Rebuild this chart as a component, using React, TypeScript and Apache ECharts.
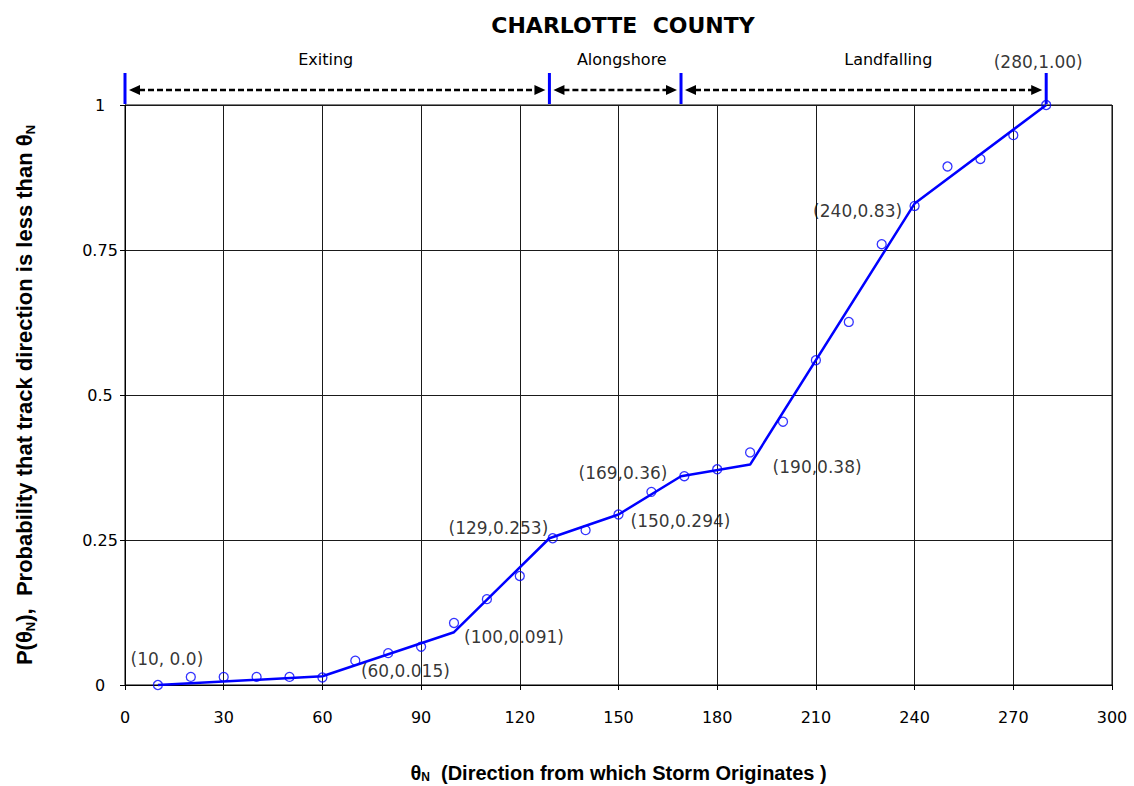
import React, { useEffect, useRef } from "react";
import * as echarts from "echarts";

// Observed points (circles)
const thetaObs = [10, 20, 30, 40, 50, 60, 70, 80, 90, 100, 110, 120, 130, 140, 150, 160, 170, 180, 190, 200, 210, 220, 230, 240, 250, 260, 270, 280];
const pObs = [0.0, 0.014, 0.014, 0.014, 0.014, 0.013, 0.042, 0.055, 0.066, 0.107, 0.148, 0.188, 0.253, 0.267, 0.294, 0.333, 0.36, 0.372, 0.401, 0.454, 0.56, 0.626, 0.76, 0.826, 0.894, 0.907, 0.948, 1.0];

// Piecewise linear fit
const fitTheta = [10, 60, 100, 129, 150, 169, 190, 240, 280];
const fitP = [0.0, 0.015, 0.091, 0.253, 0.294, 0.36, 0.38, 0.83, 1.0];
const fitLabels = ["(10, 0.0)", "(60,0.015)", "(100,0.091)", "(129,0.253)", "(150,0.294)", "(169,0.36)", "(190,0.38)", "(240,0.83)", "(280,1.00)"];

// Regions along the top
const regionBounds = [0, 129, 169, 280];
const regionNames = ["Exiting", "Alongshore", "Landfalling"];
const regionLabelX = [61, 151, 232];

// style: label offsets in pixels (relative to the point)
const labelOffsets = [[9, -26], [83, -5], [60, 5], [-51, -10], [62, 7], [-58, -3], [67, 2], [-57, 7], [-8, -43]];

const BLUE = "#0000ff";

export default function App() {
  const ref = useRef<HTMLDivElement>(null);
  useEffect(() => {
    if (!ref.current) return;
    const chart = echarts.init(ref.current, null, { renderer: "svg" });
    const nameRich = {
      t: { fontFamily: "Liberation Sans", fontWeight: "bold", fontSize: 20, color: "#000", lineHeight: 20 },
      s: { fontFamily: "Liberation Sans", fontWeight: "bold", fontSize: 12, color: "#000", lineHeight: 12, verticalAlign: "bottom" },
    };
    const yNameRich = {
      t: { fontFamily: "Liberation Sans", fontWeight: "bold", fontSize: 22, color: "#000", lineHeight: 26 },
      s: { fontFamily: "Liberation Sans", fontWeight: "bold", fontSize: 13, color: "#000", lineHeight: 13, verticalAlign: "bottom" },
    };
    const option: any = {
      animation: false,
      title: {
        text: "CHARLOTTE  COUNTY",
        left: 618,
        top: 9,
        textAlign: "center",
        textStyle: { fontFamily: "DejaVu Sans", fontWeight: "bold", fontSize: 22, color: "#000" },
      },
      grid: {
        left: 125, right: 22, top: 105, bottom: 101,
        show: true, borderColor: "#000", borderWidth: 1,
        containLabel: false, outerBoundsMode: "none",
      },
      xAxis: {
        type: "value",
        min: 0,
        max: 300,
        interval: 30,
        axisLine: { show: true, lineStyle: { color: "#000", width: 1 } },
        axisTick: { show: true, length: 5, lineStyle: { color: "#000" } },
        axisLabel: { margin: 24, fontFamily: "DejaVu Sans", fontSize: 16, color: "#000" },
        splitLine: { show: true, lineStyle: { color: "#1a1a1a", width: 1 } },
        name: "{t|θ}{s|N}{t|  (Direction from which Storm Originates )}",
        nameLocation: "middle",
        nameGap: 78,
        nameTextStyle: { rich: nameRich },
      },
      yAxis: {
        type: "value",
        min: 0,
        max: 1,
        interval: 0.25,
        axisLine: { show: true, lineStyle: { color: "#000", width: 1 } },
        axisTick: { show: true, length: 5, lineStyle: { color: "#000" } },
        axisLabel: { margin: 25, align: "center", fontFamily: "DejaVu Sans", fontSize: 16, color: "#000" },
        splitLine: { show: true, lineStyle: { color: "#1a1a1a", width: 1 } },
        name: "{t|P(θ}{s|N}{t|),  Probability that track direction is less than θ}{s|N}",
        nameLocation: "middle",
        nameRotate: 90,
        nameGap: 88,
        nameTextStyle: { rich: yNameRich },
      },
      series: [
        {
          type: "line",
          data: fitTheta.map((t, i) => [t, fitP[i]]),
          showSymbol: false,
          symbol: "none",
          clip: false,
          lineStyle: { color: BLUE, width: 2.5 },
          z: 3,
        },
        {
          type: "scatter",
          data: thetaObs.map((t, i) => [t, pObs[i]]),
          symbol: "circle",
          symbolSize: 9,
          clip: false,
          itemStyle: { color: "rgba(255,255,255,0)", borderColor: BLUE, borderWidth: 1.3 },
          z: 4,
        },
        {
          type: "scatter",
          data: fitTheta.map((t, i) => ({
            value: [t, fitP[i]],
            label: { offset: labelOffsets[i], formatter: fitLabels[i] },
          })),
          symbolSize: 1,
          clip: false,
          itemStyle: { color: "rgba(0,0,0,0)" },
          label: {
            show: true,
            position: "inside",
            align: "center",
            verticalAlign: "middle",
            fontFamily: "DejaVu Sans",
            fontSize: 17,
            color: "#000",
          },
          z: 5,
        },
        {
          type: "custom",
          clip: false,
          encode: { x: 0, y: 1 },
          data: regionNames.map((n, i) => [regionBounds[i], 1, regionBounds[i + 1], regionLabelX[i]]),
          renderItem: (params: any, api: any) => {
            const p0 = api.coord([api.value(0), 1]);
            const p1 = api.coord([api.value(2), 1]);
            const pl = api.coord([api.value(3), 1]);
            const y = p0[1] - 15;
            const a0 = p0[0] + 4;
            const a1 = p1[0] - 4;
            const al = 11;
            const ah = 5;
            return {
              type: "group",
              children: [
                {
                  type: "line",
                  shape: { x1: a0 + al - 1, y1: y, x2: a1 - al + 1, y2: y },
                  style: { stroke: "#000", lineWidth: 2.5, lineDash: [6, 3] },
                },
                {
                  type: "polygon",
                  shape: { points: [[a0, y], [a0 + al, y - ah], [a0 + al, y + ah]] },
                  style: { fill: "#000" },
                },
                {
                  type: "polygon",
                  shape: { points: [[a1, y], [a1 - al, y - ah], [a1 - al, y + ah]] },
                  style: { fill: "#000" },
                },
                {
                  type: "text",
                  x: pl[0],
                  y: p0[1] - 46,
                  style: {
                    text: regionNames[params.dataIndex],
                    fill: "#000",
                    fontFamily: "DejaVu Sans",
                    fontSize: 16,
                    align: "center",
                    verticalAlign: "middle",
                  },
                },
              ],
            };
          },
          z: 6,
        },
        {
          type: "custom",
          clip: false,
          encode: { x: 0, y: 1 },
          data: regionBounds.map((b) => [b, 1]),
          renderItem: (params: any, api: any) => {
            const p = api.coord([api.value(0), 1]);
            return {
              type: "line",
              shape: { x1: p[0], y1: p[1] - 32, x2: p[0], y2: p[1] - 1 },
              style: { stroke: BLUE, lineWidth: 3 },
            };
          },
          z: 6,
        },
      ],
    };
    chart.setOption(option);
    return () => chart.dispose();
  }, []);
  return <div ref={ref} style={{ position: "fixed", left: 0, top: 0, width: 1134, height: 786, background: "#fff" }} />;
}
